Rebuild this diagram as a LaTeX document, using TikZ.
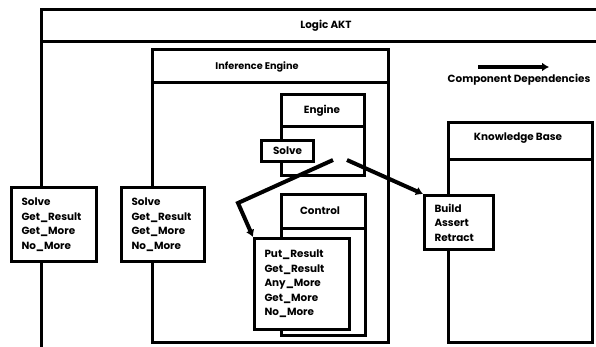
\documentclass[tikz,border=0pt]{standalone}
\usepackage{fontspec}
\setsansfont{Poppins}
\usetikzlibrary{arrows.meta}

\begin{document}
\begin{tikzpicture}[x=1pt, y=-1pt, line width=3pt,
    every node/.style={font=\sffamily\bfseries\fontsize{10.4}{14.5}\selectfont, inner sep=0pt},
    ifbox/.style={draw, fill=white, anchor=north west, align=left, inner xsep=10pt},
    dep/.style={line width=4pt, -{Latex[length=7pt,width=9pt]}}]
\useasboundingbox (0,0) rectangle (596,347);
\clip (0,0) rectangle (596,347);

\draw (41,10) rectangle (640,400);
\draw (41,42) -- (640,42);
\node (logic) at (326,26) {Logic AKT};

\draw (152,50) rectangle (388,342);
\draw (152,83) -- (388,83);
\node[font=\sffamily\bfseries\fontsize{9.7}{11}\selectfont] (infeng) at (257,67) {Inference Engine};

\draw (281,95) rectangle (364,176);
\draw (281,127) -- (364,127);
\node (engine) at (322,111) {Engine};
\node[draw, fill=white, anchor=north west, minimum width=52pt, minimum height=21pt] (solvetab) at (260,139) {Solve};

\draw (281,195) rectangle (365,335);
\draw (281,228) -- (365,228);
\node (control) at (320,211) {Control};

\draw (448,123) rectangle (592,342);
\draw (448,160) -- (592,160);
\node (kb) at (518,138) {Knowledge Base};

\node[ifbox, minimum width=85pt, minimum height=74pt, text width=65pt] (solveA) at (10,186)
    {Solve\\Get\_Result\\Get\_More\\No\_More};
\node[ifbox, minimum width=83pt, minimum height=74pt, text width=63pt] (solveB) at (120,186)
    {Solve\\Get\_Result\\Get\_More\\No\_More};
\node[ifbox, minimum width=95pt, minimum height=91pt, text width=75pt] (ctrlif) at (253,237)
    {Put\_Result\\Get\_Result\\Any\_More\\Get\_More\\No\_More};
\node[ifbox, minimum width=69pt, minimum height=54pt, text width=49pt] (kbif) at (423,194)
    {Build\\Assert\\Retract};

\coordinate (dsrcA) at (333,160);
\coordinate (dbend) at (238,203);
\coordinate (dsrcB) at (347,160);
\draw[dep] (dsrcA) -- (dbend) -- (ctrlif.north west);
\draw[dep] (dsrcB) -- (kbif.north west);

\coordinate (lgA) at (478,67);
\coordinate (lgB) at (549,67);
\draw[dep] (lgA) -- (lgB);
\node (lgtext) at (519,80) {Component Dependencies};
\end{tikzpicture}
\end{document}
